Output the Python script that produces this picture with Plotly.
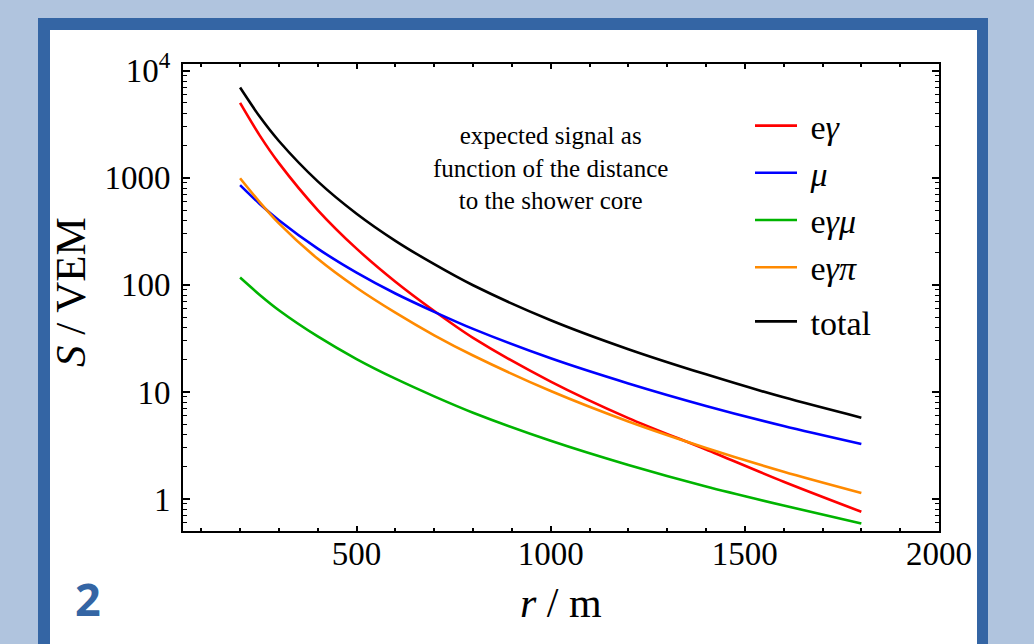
import plotly.graph_objects as go

# Expected station signal versus distance from the shower core
r_m = [200, 250, 300, 400, 500, 600, 700, 800, 1000, 1200, 1400, 1600, 1800]
s_egamma = [5000, 2500, 1370, 500, 218, 107, 57, 32, 12.5, 5.7, 2.9, 1.45, 0.76]
s_mu = [855, 573, 402, 218, 130, 83, 56, 38.8, 20.6, 12.0, 7.4, 4.8, 3.26]
s_egammamu = [117, 81, 58, 33, 20.3, 13.3, 9.1, 6.4, 3.5, 2.08, 1.31, 0.87, 0.59]
s_egammapi = [990, 596, 375, 175, 94, 55, 33.8, 21.9, 10.2, 5.3, 3.0, 1.8, 1.14]
s_total = [6962, 3750, 2205, 926, 462, 258, 156, 99.1, 46.8, 25.1, 14.6, 8.9, 5.75]

series_names = ["e<i>γ</i>", "<i>μ</i>", "e<i>γμ</i>", "e<i>γπ</i>", "total"]
series_values = [s_egamma, s_mu, s_egammamu, s_egammapi, s_total]
series_colors = ["#ff0000", "#0000ff", "#00b400", "#ff8a00", "#000000"]
series_groups = ["parts", "parts", "parts", "parts", "sum"]

x_ticks = [500, 1000, 1500, 2000]
y_ticks = [1, 10, 100, 1000, 10000]
y_ticktext = ["1", "10", "100", "1000", "10<sup>4</sup>"]

note_text = "expected signal as<br>function of the distance<br>to the shower core"

W, H = 1034, 644
L, R, T, B = 183, 95, 64, 113
PW, PH = W - L - R, H - T - B

def px(xpix):
    return (xpix - L) / PW

def py(ypix):
    return (H - B - ypix) / PH

SERIF = "Liberation Serif"
FRAME = "#3465a4"
NBSP = "\u00a0"

fig = go.Figure()
for name, vals, col, grp in zip(series_names, series_values, series_colors, series_groups):
    fig.add_trace(go.Scatter(
        x=r_m, y=vals, name=NBSP + name, mode="lines", legendgroup=grp,
        line=dict(color=col, width=2.6, shape="spline", smoothing=0.8),
    ))

axis_common = dict(
    showline=True, linecolor="black", linewidth=2, mirror="allticks",
    ticks="inside", tickcolor="black", showgrid=False, zeroline=False,
    tickfont=dict(family=SERIF, size=33, color="black"),
)

fig.update_xaxes(
    range=[53, 2000], tickmode="array", tickvals=x_ticks, ticklen=5, tickwidth=1.5,
    ticklabelstandoff=-8,
    minor=dict(ticks="inside", dtick=100, tick0=0, ticklen=3, tickcolor="black", tickwidth=1.5),
    **axis_common,
)
fig.update_yaxes(
    type="log", range=[-0.2985, 4.0625], tickmode="array", tickvals=y_ticks,
    ticktext=y_ticktext, ticklen=7, tickwidth=1.5, ticklabelstandoff=4,
    minor=dict(ticks="inside", dtick="D1", ticklen=4, tickcolor="black", tickwidth=1.2),
    **axis_common,
)

# Slide frame around the figure
fig.add_shape(type="rect", xref="paper", yref="paper", layer="below",
              x0=px(38), x1=px(988), y0=py(700), y1=py(18),
              fillcolor=FRAME, line=dict(width=0))
fig.add_shape(type="rect", xref="paper", yref="paper", layer="below",
              x0=px(50), x1=px(977), y0=py(700), y1=py(30),
              fillcolor="white", line=dict(width=0))

fig.add_annotation(xref="paper", yref="paper", x=px(550), y=py(168),
                   xanchor="center", yanchor="middle", align="center",
                   text=note_text, showarrow=False,
                   font=dict(family=SERIF, size=25, color="black"))
fig.add_annotation(xref="paper", yref="paper", x=px(70), y=py(292),
                   xanchor="center", yanchor="middle",
                   text="<i>S</i> / VEM", textangle=-90, showarrow=False,
                   font=dict(family=SERIF, size=43, color="black"))
fig.add_annotation(xref="paper", yref="paper", x=px(561), y=py(603),
                   xanchor="center", yanchor="middle",
                   text="<i>r</i> / m", showarrow=False,
                   font=dict(family=SERIF, size=42, color="black"))
fig.add_annotation(xref="paper", yref="paper", x=px(88), y=py(598),
                   xanchor="center", yanchor="middle",
                   text="<b>2</b>", showarrow=False,
                   font=dict(family="Open Sans", size=45, color=FRAME))

fig.update_layout(
    width=W, height=H,
    margin=dict(l=L, r=R, t=T, b=B, autoexpand=False),
    paper_bgcolor="#b0c4de", plot_bgcolor="rgba(0,0,0,0)",
    showlegend=True,
    legend=dict(x=px(750), y=py(97), xanchor="left", yanchor="top",
                bgcolor="rgba(0,0,0,0)", borderwidth=0, tracegroupgap=7,
                itemwidth=42,
                font=dict(family=SERIF, size=34, color="black")),
)

fig.write_html("out.html")
